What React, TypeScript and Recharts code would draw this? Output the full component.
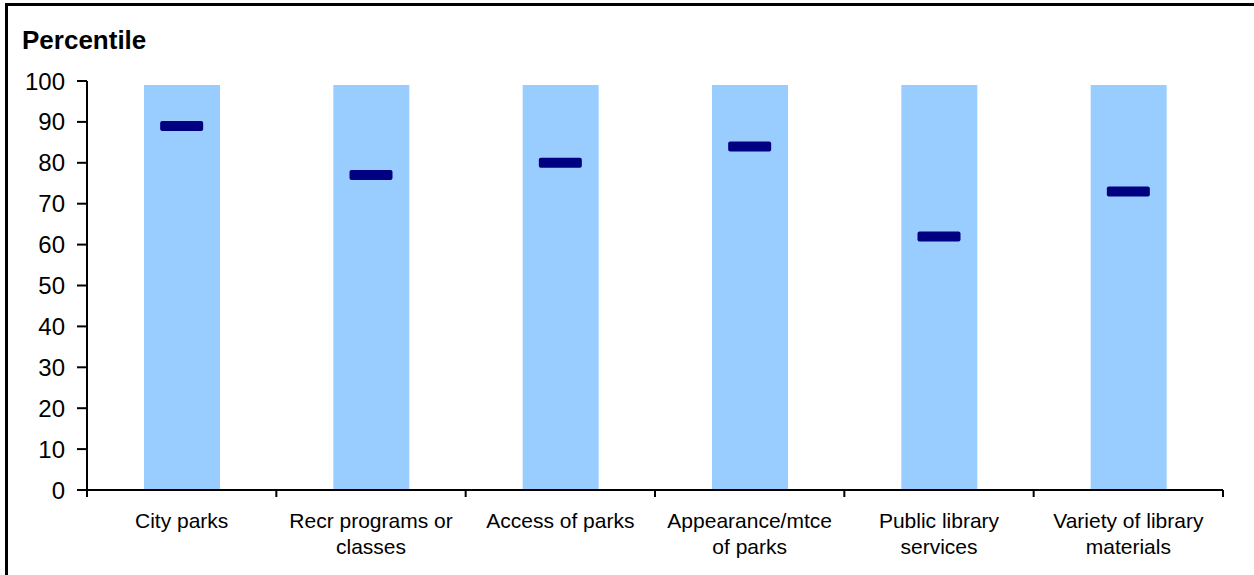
import React from "react";
import { Bar, ComposedChart, Line, XAxis, YAxis } from "recharts";

const categories = [
  "City parks",
  "Recr programs or|classes",
  "Access of parks",
  "Appearance/mtce|of parks",
  "Public library|services",
  "Variety of library|materials",
];
const rangeTop = [99, 99, 99, 99, 99, 99];
const percentile = [89, 77, 80, 84, 62, 73];
const yTicks = [0, 10, 20, 30, 40, 50, 60, 70, 80, 90, 100];

const FONT = '"Liberation Sans", Arial, sans-serif';
const W = 1254;
const H = 575;
const PLOT_LEFT = 87;
const PLOT_RIGHT = 31;
const BAND = (W - PLOT_LEFT - PLOT_RIGHT) / categories.length;

const data = categories.map((name, i) => ({
  name,
  top: rangeTop[i],
  score: percentile[i],
}));

function CategoryTick(props: any) {
  const { x, y, payload, index } = props;
  const lines = String(payload.value).split("|");
  return (
    <g>
      <line x1={x - BAND / 2} x2={x - BAND / 2} y1={y} y2={y + 7} stroke="#000" strokeWidth={2} />
      {index === categories.length - 1 && (
        <line x1={x + BAND / 2} x2={x + BAND / 2} y1={y} y2={y + 7} stroke="#000" strokeWidth={2} />
      )}
      {lines.map((t, i) => (
        <text key={i} x={x} y={y + 38 + i * 26} textAnchor="middle" fill="#000" fontSize={21} fontFamily={FONT}>
          {t}
        </text>
      ))}
    </g>
  );
}

function Dash(props: any) {
  const { cx, cy } = props;
  if (cx == null || cy == null) return null;
  return <rect x={cx - 21.5} y={cy - 5} width={43} height={10} rx={2} fill="#000080" />;
}

export default function App() {
  return (
    <div style={{ position: "absolute", left: 0, top: 0, width: W, height: H, overflow: "hidden", background: "#fff" }}>
      <div
        style={{
          position: "absolute",
          left: 5,
          top: 3,
          width: W + 20,
          height: H + 20,
          borderLeft: "3px solid #000",
          borderTop: "3px solid #000",
        }}
      />
      <div
        style={{
          position: "absolute",
          left: 22,
          top: 28,
          fontFamily: FONT,
          fontWeight: "bold",
          fontSize: 26,
          lineHeight: "25px",
          color: "#000",
        }}
      >
        Percentile
      </div>
      <div style={{ position: "absolute", left: 0, top: 0 }}>
        <ComposedChart
          width={W}
          height={H}
          data={data}
          margin={{ top: 81, right: PLOT_RIGHT, left: 0, bottom: 0 }}
          barCategoryGap="30%"
        >
          <XAxis
            dataKey="name"
            height={85}
            axisLine={{ stroke: "#000", strokeWidth: 2 }}
            tickLine={false}
            tickSize={0}
            tickMargin={0}
            interval={0}
            tick={<CategoryTick />}
          />
          <YAxis
            width={PLOT_LEFT}
            domain={[0, 100]}
            ticks={yTicks}
            interval={0}
            axisLine={{ stroke: "#000", strokeWidth: 2 }}
            tickLine={{ stroke: "#000", strokeWidth: 2 }}
            tickSize={10}
            tickMargin={12}
            tick={{ fill: "#000", fontSize: 24, fontFamily: FONT }}
          />
          <Bar dataKey="top" fill="#99CCFF" barSize={76} isAnimationActive={false} />
          <Line
            dataKey="score"
            stroke="none"
            dot={<Dash />}
            activeDot={false}
            isAnimationActive={false}
          />
        </ComposedChart>
      </div>
    </div>
  );
}
